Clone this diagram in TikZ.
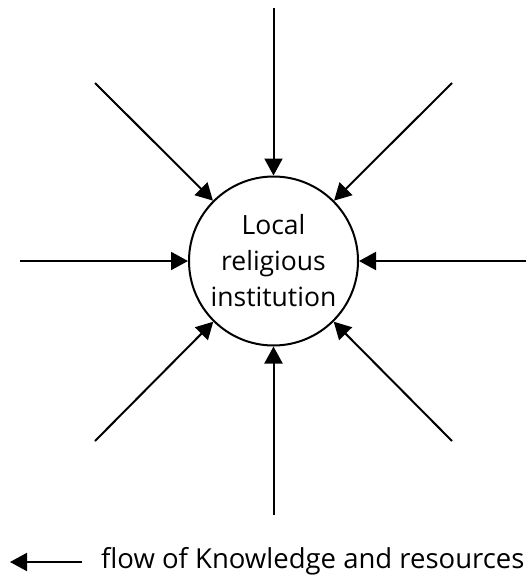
\documentclass[tikz,border=0pt]{standalone}
\usepackage{fontspec}
\setmainfont{Open Sans}
\usetikzlibrary{arrows.meta}
\begin{document}
\begin{tikzpicture}[x=1pt,y=-1pt,
  flow/.style={line width=2pt,-{Triangle[length=17pt,width=18pt]}},
  inst/.style={circle,draw,line width=2pt,minimum size=169pt,inner sep=0pt,align=center,
    font=\fontsize{26.5}{36}\selectfont},
  legendtxt/.style={anchor=base west,inner sep=0pt,font=\fontsize{27.5}{30}\selectfont}]
\useasboundingbox (0,0) rectangle (526,576);
\node[inst] (c) at (273.5,261) {Local\\religious\\institution};
\coordinate (n) at (273.5,8);
\coordinate (s) at (273.5,515);
\coordinate (w) at (20,261);
\coordinate (e) at (530,261);
\coordinate (nw) at (95,83);
\coordinate (ne) at (452,83);
\coordinate (sw) at (95,441);
\coordinate (se) at (452,441);
\foreach \p in {n,s,w,e,nw,ne,sw,se} \draw[flow] (\p) -- (c);
\coordinate (lt) at (82,562);
\coordinate (lh) at (10,562);
\draw[flow] (lt) -- (lh);
\node[legendtxt] (lg) at (101,568) {flow of Knowledge and resources};
\end{tikzpicture}
\end{document}
